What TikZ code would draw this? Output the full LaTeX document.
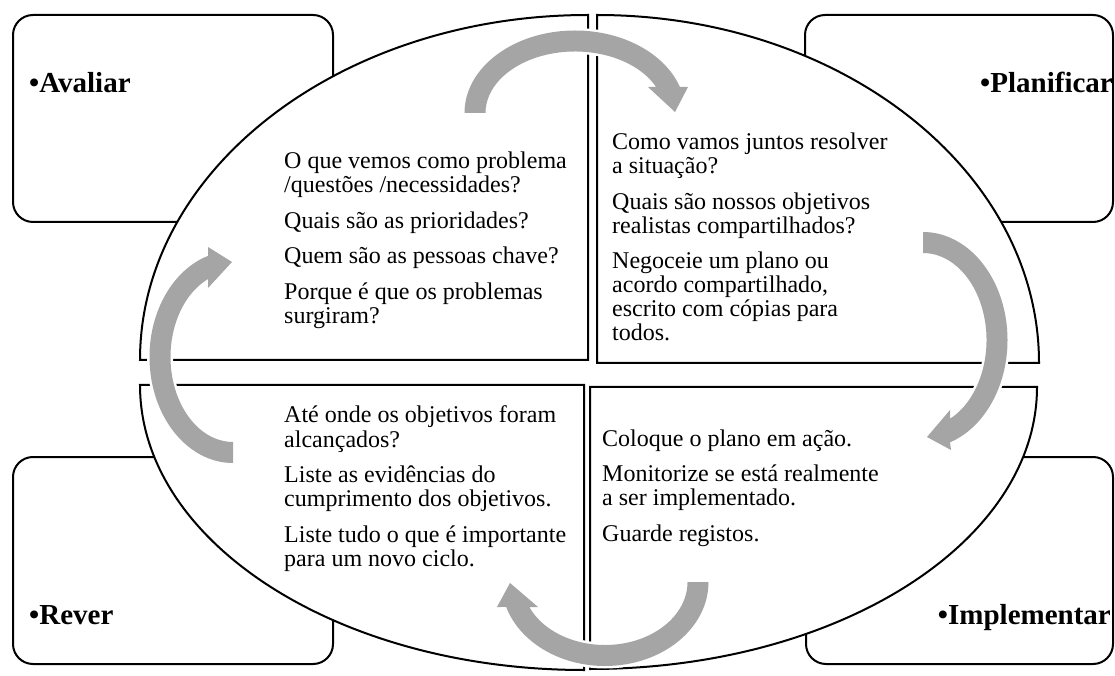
\documentclass[tikz,border=0pt]{standalone}
\usepackage{fontspec}
\setmainfont{Liberation Serif}
\definecolor{arrowgray}{HTML}{A5A5A5}
\tikzset{
  cornerbox/.style={draw=black, line width=2pt, fill=white, rounded corners=20pt},
  quad/.style={draw=black, line width=2pt, fill=white, line join=miter},
  cyclearrow/.style={fill=arrowgray, preaction={draw=white, line width=5pt, line join=round}},
  titletext/.style={inner sep=0pt, font=\fontsize{29}{29}\selectfont\bfseries},
  bodytext/.style={inner sep=0pt, anchor=base west, font=\fontsize{24}{24}\selectfont},
}
\newcommand\bodypar[2]{\parbox[t]{#1}{\raggedright\lineskiplimit=-20pt #2}}
\begin{document}
\begin{tikzpicture}[x=1pt,y=1pt]
\useasboundingbox (0,0) rectangle (1115,675);
% corner boxes
\draw[cornerbox] (13,453) rectangle (333,660);
\draw[cornerbox] (805,453) rectangle (1113,660);
\draw[cornerbox] (13,11) rectangle (333,218);
\draw[cornerbox] (806,11) rectangle (1113,218);
% quadrant pieces
\draw[quad] (588,315) -- (140,315) arc[start angle=180, end angle=90, x radius=448, y radius=345] -- cycle;
\draw[quad] (597,312) -- (1039,312) arc[start angle=0, end angle=90, x radius=442, y radius=348] -- cycle;
\draw[quad] (584,290) -- (140,290) arc[start angle=180, end angle=270, x radius=444, y radius=285] -- cycle;
\draw[quad] (590,288) -- (1037,288) arc[start angle=0, end angle=-90, x radius=447, y radius=282] -- cycle;
% cycle arrows
\path[cyclearrow] (464.5,562) arc[start angle=180, end angle=18.37, x radius=110.5, y radius=82.5]
  -- (688,588) -- (675,563) -- (648,588) -- (656.1,588)
  arc[start angle=25.01, end angle=180, x radius=89.5, y radius=61.5] -- cycle;
\path[cyclearrow] (923,443) arc[start angle=90, end angle=-71.37, x radius=84.5, y radius=108]
  -- (951,225) -- (927,238) -- (950,265) -- (950,256.25)
  arc[start angle=-64.84, end angle=90, x radius=63.5, y radius=87] -- cycle;
\path[cyclearrow] (708.5,93) arc[start angle=0, end angle=-162.69, x radius=103.5, y radius=84]
  -- (497,68) -- (510,92) -- (538,68) -- (529.3,68)
  arc[start angle=-156.62, end angle=0, x radius=82.5, y radius=63] -- cycle;
\path[cyclearrow] (233,212) arc[start angle=-90, end angle=-252.58, x radius=83.5, y radius=106]
  -- (208,428) -- (232,413) -- (208,387) -- (208,395.9)
  arc[start angle=-246.42, end angle=-90, x radius=62.5, y radius=85] -- cycle;
% titles
\node[titletext, anchor=base west] (avaliar) at (29,582) {•Avaliar};
\node[titletext, anchor=base east] (planificar) at (1113,582) {•Planificar};
\node[titletext, anchor=base west] (rever) at (29,51) {•Rever};
\node[titletext, anchor=base east] (implementar) at (1111,51) {•Implementar};
% body texts
\node[bodytext] (tltext) at (284,506) {\bodypar{330pt}{O que vemos como problema\\ /questões /necessidades?\\[11.5pt] Quais são as prioridades?\\[11.5pt] Quem são as pessoas chave?\\[11.5pt] Porque é que os problemas\\ surgiram?}};
\node[bodytext] (trtext) at (612,525) {\bodypar{330pt}{Como vamos juntos resolver\\ a situação?\\[11.5pt] Quais são nossos objetivos\\ realistas compartilhados?\\[11.5pt] Negoceie um plano ou\\ acordo compartilhado,\\ escrito com cópias para\\ todos.}};
\node[bodytext] (bltext) at (284,252) {\bodypar{330pt}{Até onde os objetivos foram\\ alcançados?\\[11.5pt] Liste as evidências do\\ cumprimento dos objetivos.\\[11.5pt] Liste tudo o que é importante\\ para um novo ciclo.}};
\node[bodytext] (brtext) at (602,229) {\bodypar{330pt}{Coloque o plano em ação.\\[11.5pt] Monitorize se está realmente\\ a ser implementado.\\[11.5pt] Guarde registos.}};
\end{tikzpicture}
\end{document}
